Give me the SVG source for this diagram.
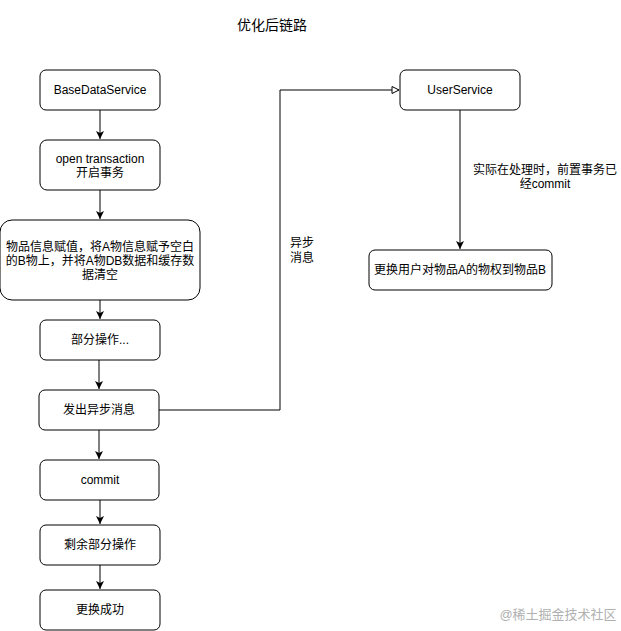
<svg xmlns="http://www.w3.org/2000/svg" width="621" height="631" viewBox="0 0 621 631">
<defs>
<style>
text{font-family:"Liberation Sans","Noto Sans CJK SC",sans-serif;font-size:12px;fill:#000;text-anchor:middle}
.n{fill:#fff;stroke:#000;stroke-width:1}
.c{fill:none;stroke:#000;stroke-width:1}
</style>
<marker id="a" markerWidth="10" markerHeight="10" refX="8" refY="4" orient="auto" markerUnits="userSpaceOnUse"><path d="M0,0 L8,4 L0,8 L2,4 Z" fill="#000"/></marker>
<marker id="o" markerWidth="10" markerHeight="10" refX="8" refY="4" orient="auto" markerUnits="userSpaceOnUse"><path d="M1,0.5 L8,4 L1,7.5 Z" fill="#fff" stroke="#000"/></marker>
</defs>
<rect width="621" height="631" fill="#fff"/>
<text x="272" y="30" style="font-size:14px">优化后链路</text>
<g id="connectors">
<path class="c" d="M100,110 V139" marker-end="url(#a)"/>
<path class="c" d="M100,190 V219" marker-end="url(#a)"/>
<path class="c" d="M100,300 V319" marker-end="url(#a)"/>
<path class="c" d="M99,360 V389" marker-end="url(#a)"/>
<path class="c" d="M99,430 V459" marker-end="url(#a)"/>
<path class="c" d="M100,500 V524" marker-end="url(#a)"/>
<path class="c" d="M100,565 V589" marker-end="url(#a)"/>
<path class="c" d="M159,410 H280 V90 H399" marker-end="url(#o)"/>
<path class="c" d="M460,110 V249" marker-end="url(#a)"/>
<text x="302" y="247">异步</text>
<text x="302" y="262">消息</text>
<text x="545" y="174">实际在处理时，前置事务已</text>
<text x="545" y="188">经commit</text>
</g>
<g id="n1"><rect class="n" x="40" y="70" width="120" height="40" rx="6"/><text x="100" y="94">BaseDataService</text></g>
<g id="n2"><rect class="n" x="40" y="140" width="120" height="50" rx="7"/><text x="100" y="163">open transaction</text><text x="100" y="177">开启事务</text></g>
<g id="n3"><rect class="n" x="0" y="220" width="200" height="80" rx="12"/><text x="100" y="251">物品信息赋值，将A物信息赋予空白</text><text x="100" y="265">的B物上，并将A物DB数据和缓存数</text><text x="100" y="279">据清空</text></g>
<g id="n4"><rect class="n" x="40" y="320" width="120" height="40" rx="6"/><text x="100" y="344">部分操作...</text></g>
<g id="n5"><rect class="n" x="39" y="390" width="120" height="40" rx="6"/><text x="99" y="414">发出异步消息</text></g>
<g id="n6"><rect class="n" x="40" y="460" width="119" height="40" rx="6"/><text x="100" y="484">commit</text></g>
<g id="n7"><rect class="n" x="40" y="525" width="120" height="40" rx="6"/><text x="100" y="549">剩余部分操作</text></g>
<g id="n8"><rect class="n" x="40" y="590" width="120" height="40" rx="6"/><text x="100" y="614">更换成功</text></g>
<g id="n9"><rect class="n" x="400" y="70" width="120" height="40" rx="6"/><text x="460" y="94">UserService</text></g>
<g id="n10"><rect class="n" x="369" y="250" width="183" height="40" rx="6"/><text x="460" y="274">更换用户对物品A的物权到物品B</text></g>
<text x="558" y="619" style="font-size:13px;fill:#b0b0b0">@稀土掘金技术社区</text>
</svg>
